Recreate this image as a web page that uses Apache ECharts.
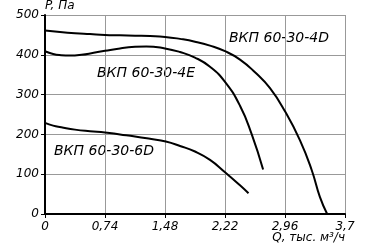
<!DOCTYPE html>
<html><head><meta charset="utf-8">
<script src="https://cdn.jsdelivr.net/npm/echarts@6/dist/echarts.min.js"></script>
<style>html,body{margin:0;padding:0;background:#fff}#c{width:372px;height:251px}</style>
</head><body><div id="c"></div>
<script>
var xTicks = [0, 0.74, 1.48, 2.22, 2.96, 3.7];
var yTicks = [0, 100, 200, 300, 400, 500];
var s4D = [[0,461],[0.185,457],[0.37,454],[0.555,452],[0.74,450],[0.925,449],[1.11,448],[1.295,447],[1.48,445],[1.665,440],[1.85,433],[2.035,423],[2.22,409],[2.405,388],[2.59,356],[2.775,316],[2.96,258],[3.145,185],[3.29,110],[3.39,43],[3.48,0]];
var s4E = [[0,409],[0.1,402],[0.2,399],[0.31,398],[0.45,400],[0.6,405],[0.74,410],[0.925,416],[1.11,420],[1.25,421],[1.48,416],[1.665,407],[1.85,393],[2.035,370],[2.22,332],[2.405,272],[2.55,200],[2.69,112]];
var s6D = [[0,229],[0.1,222],[0.2,218],[0.37,212],[0.555,208],[0.74,205],[0.925,200],[1.11,195],[1.295,189],[1.49,182],[1.665,171],[1.85,157],[2.035,136],[2.22,105],[2.405,72],[2.51,52]];
var names = ['ВКП 60-30-4D', 'ВКП 60-30-4E', 'ВКП 60-30-6D'];
var fmt = function (v) { return String(Math.round(v * 100) / 100).replace('.', ','); };
var chart = echarts.init(document.getElementById('c'));
var lineStyle = {color: '#000', width: 2};
function ser(d) { return {type: 'line', data: d, smooth: 0.5, showSymbol: false, symbol: 'none', lineStyle: lineStyle, silent: true}; }
var tf = 'DejaVu Sans';
chart.setOption({
  animation: false,
  grid: {left: 45, right: 27, top: 15, bottom: 37, containLabel: false, outerBoundsMode: 'none'},
  xAxis: {
    type: 'value', min: 0, max: 3.7, interval: 0.74,
    name: 'Q, тыс. м³/ч', nameLocation: 'end', nameGap: 0, nameMoveOverlap: false,
    nameTextStyle: {fontFamily: tf, fontStyle: 'italic', fontSize: 12, color: '#000', align: 'right', verticalAlign: 'top', padding: [18, 0, 0, 0]},
    axisLine: {show: true, onZero: false, lineStyle: {color: '#000', width: 2}},
    axisTick: {show: true, length: 4, lineStyle: {color: '#000', width: 1}},
    axisLabel: {formatter: fmt, fontFamily: tf, fontStyle: 'italic', fontSize: 12, color: '#000', margin: 7, showMaxLabel: true},
    splitLine: {show: true, lineStyle: {color: '#999', width: 1}}
  },
  yAxis: {
    type: 'value', min: 0, max: 500, interval: 100,
    name: 'P, Па', nameLocation: 'end', nameGap: 3, nameMoveOverlap: false,
    nameTextStyle: {fontFamily: tf, fontStyle: 'italic', fontSize: 12, color: '#000', align: 'left'},
    axisLine: {show: true, lineStyle: {color: '#000', width: 2}},
    axisTick: {show: true, length: 4, lineStyle: {color: '#000', width: 1}},
    axisLabel: {fontFamily: tf, fontStyle: 'italic', fontSize: 12, color: '#000', margin: 6},
    splitLine: {show: true, lineStyle: {color: '#999', width: 1}}
  },
  graphic: [
    {type: 'text', left: 229, top: 31, style: {text: names[0], font: 'italic 14px "DejaVu Sans"', fill: '#000'}},
    {type: 'text', left: 97, top: 66, style: {text: names[1], font: 'italic 14px "DejaVu Sans"', fill: '#000'}},
    {type: 'text', left: 54, top: 144, style: {text: names[2], font: 'italic 14px "DejaVu Sans"', fill: '#000'}}
  ],
  series: [ser(s4D), ser(s4E), ser(s6D)]
});
</script></body></html>
